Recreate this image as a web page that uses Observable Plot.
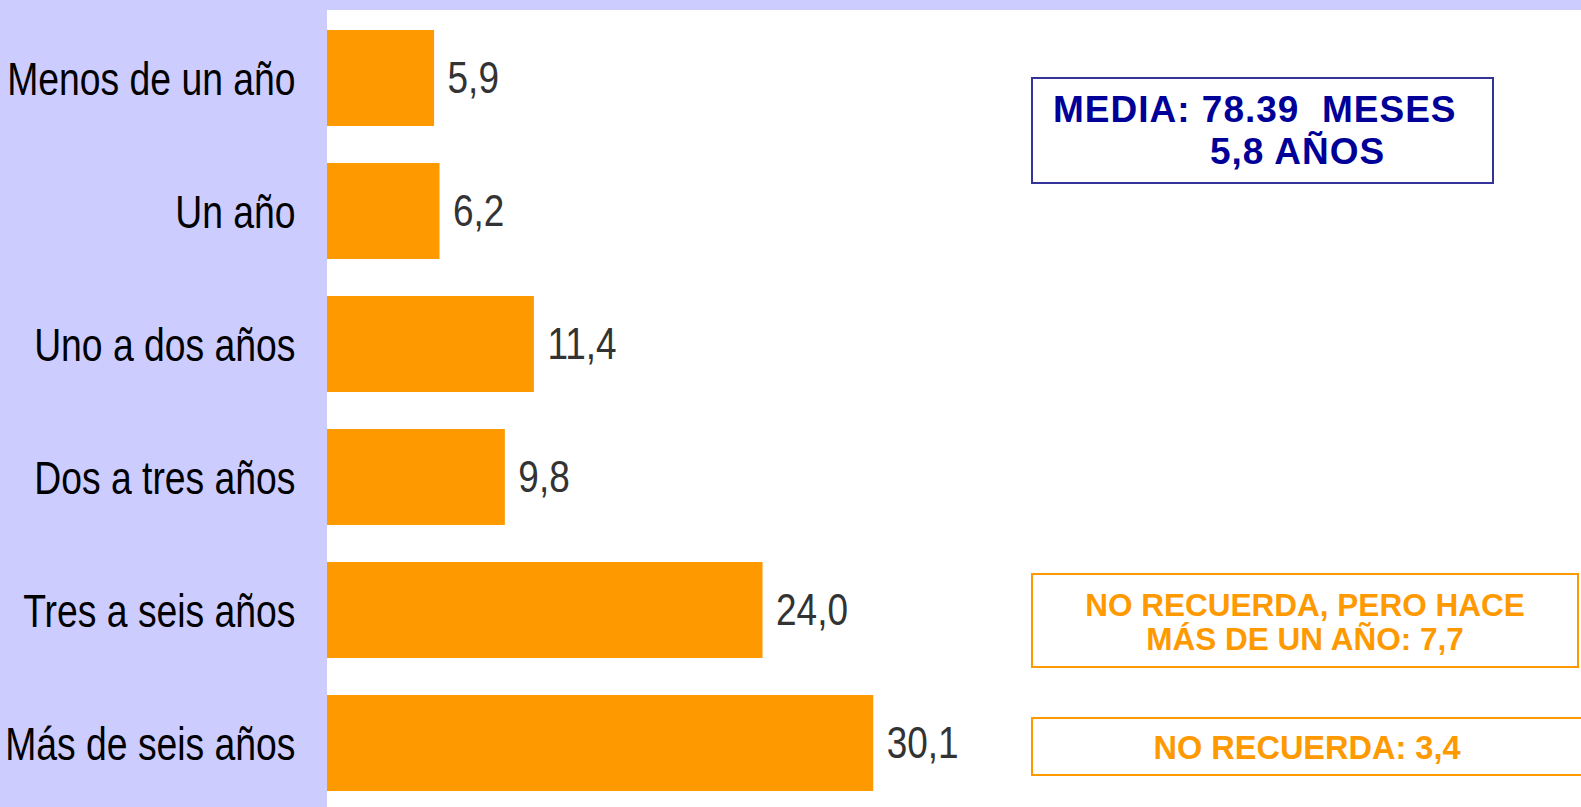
<!DOCTYPE html>
<html>
<head>
<meta charset="utf-8">
<script src="https://cdn.jsdelivr.net/npm/d3@7"></script>
<script src="https://cdn.jsdelivr.net/npm/@observablehq/plot@0.6"></script>
<style>
  html, body { margin: 0; padding: 0; background: #ccccff; }
  #wrap { position: relative; width: 1581px; height: 807px; overflow: hidden; }
  .box { position: absolute; box-sizing: border-box; background: #fff;
         font-family: "Liberation Sans", Arial, sans-serif; font-weight: bold; }
  .box span { position: absolute; white-space: pre; }
</style>
</head>
<body>
<div id="wrap"></div>
<script>
const categories = ["Menos de un año", "Un año", "Uno a dos años", "Dos a tres años", "Tres a seis años", "Más de seis años"];
const values = [5.9, 6.2, 11.4, 9.8, 24.0, 30.1];

const mediaLines = ["MEDIA: 78.39  MESES", "5,8 AÑOS"];
const noRecuerdaHaceLines = ["NO RECUERDA, PERO HACE", "MÁS DE UN AÑO: 7,7"];
const noRecuerdaLines = ["NO RECUERDA: 3,4"];

const data = categories.map((c, i) => ({cat: c, value: values[i]}));
const fmt = v => v.toFixed(1).replace(".", ",");
const sans = "'Liberation Sans', Arial, sans-serif";
const CAT_FS = 45.5, VAL_FS = 44;

const chart = Plot.plot({
  width: 1581,
  height: 807,
  marginLeft: 327,
  marginRight: 0,
  marginTop: 10,
  marginBottom: 0,
  style: {background: "transparent", fontFamily: sans, color: "#000", overflow: "visible"},
  x: {domain: [0, 69.1], axis: null},
  y: {domain: categories, range: [10, 810.4], paddingInner: 0.28, paddingOuter: 0.14, label: null, axis: null},
  marks: [
    Plot.frame({fill: "white", stroke: "white"}),
    Plot.barX(data, {x: "value", y: "cat", fill: "#ff9900"}),
    Plot.text(data, {x: "value", y: "cat", text: d => fmt(d.value), dx: 13, dy: 0, textAnchor: "start",
                     fill: "#333333", fontSize: VAL_FS, fontFamily: sans}),
    Plot.axisY({tickSize: 0, tickPadding: 32, dy: 2, fontSize: CAT_FS, fill: "#000", fontFamily: sans, label: null})
  ]
});
const wrap = document.getElementById("wrap");
wrap.appendChild(chart);

// Narrow the sans-serif glyphs horizontally (the reference uses a condensed face)
const ctx = document.createElement("canvas").getContext("2d");
function measure(str, fs) {
  ctx.font = `${fs}px "Liberation Sans", Arial, sans-serif`;
  return ctx.measureText(str).width;
}
const valueStrings = new Set(values.map(fmt));
const catStrings = new Set(categories);
chart.querySelectorAll("text").forEach(t => {
  const s = t.textContent;
  let k = 0, fs = 0;
  if (catStrings.has(s)) { k = 0.82; fs = CAT_FS; }
  else if (valueStrings.has(s)) { k = 0.84; fs = VAL_FS; }
  else return;
  t.setAttribute("textLength", (measure(s, fs) * k).toFixed(2));
  t.setAttribute("lengthAdjust", "spacingAndGlyphs");
});

function addBox(cfg) {
  const b = document.createElement("div");
  b.className = "box";
  Object.assign(b.style, {left: cfg.left + "px", top: cfg.top + "px", width: cfg.w + "px", height: cfg.h + "px",
    border: "2px solid " + cfg.border, color: cfg.color, fontSize: cfg.fs + "px", letterSpacing: (cfg.ls || 0) + "px"});
  cfg.lines.forEach((t, i) => {
    const s = document.createElement("span");
    s.textContent = t;
    s.style.top = cfg.tops[i] + "px";
    if (cfg.lefts) s.style.left = cfg.lefts[i] + "px";
    else { s.style.left = "0"; s.style.width = "100%"; s.style.textAlign = "center"; }
    b.appendChild(s);
  });
  wrap.appendChild(b);
}

addBox({left: 1031, top: 77, w: 463, h: 107, border: "#333399", color: "#000099", fs: 37, ls: 1,
        lines: mediaLines, tops: [10, 52], lefts: [20, 177]});
addBox({left: 1031, top: 573, w: 548, h: 95, border: "#ff9900", color: "#ff9900", fs: 31.5,
        lines: noRecuerdaHaceLines, tops: [12, 46]});
addBox({left: 1031, top: 717, w: 552, h: 59, border: "#ff9900", color: "#ff9900", fs: 32.5,
        lines: noRecuerdaLines, tops: [11]});
</script>
</body>
</html>
